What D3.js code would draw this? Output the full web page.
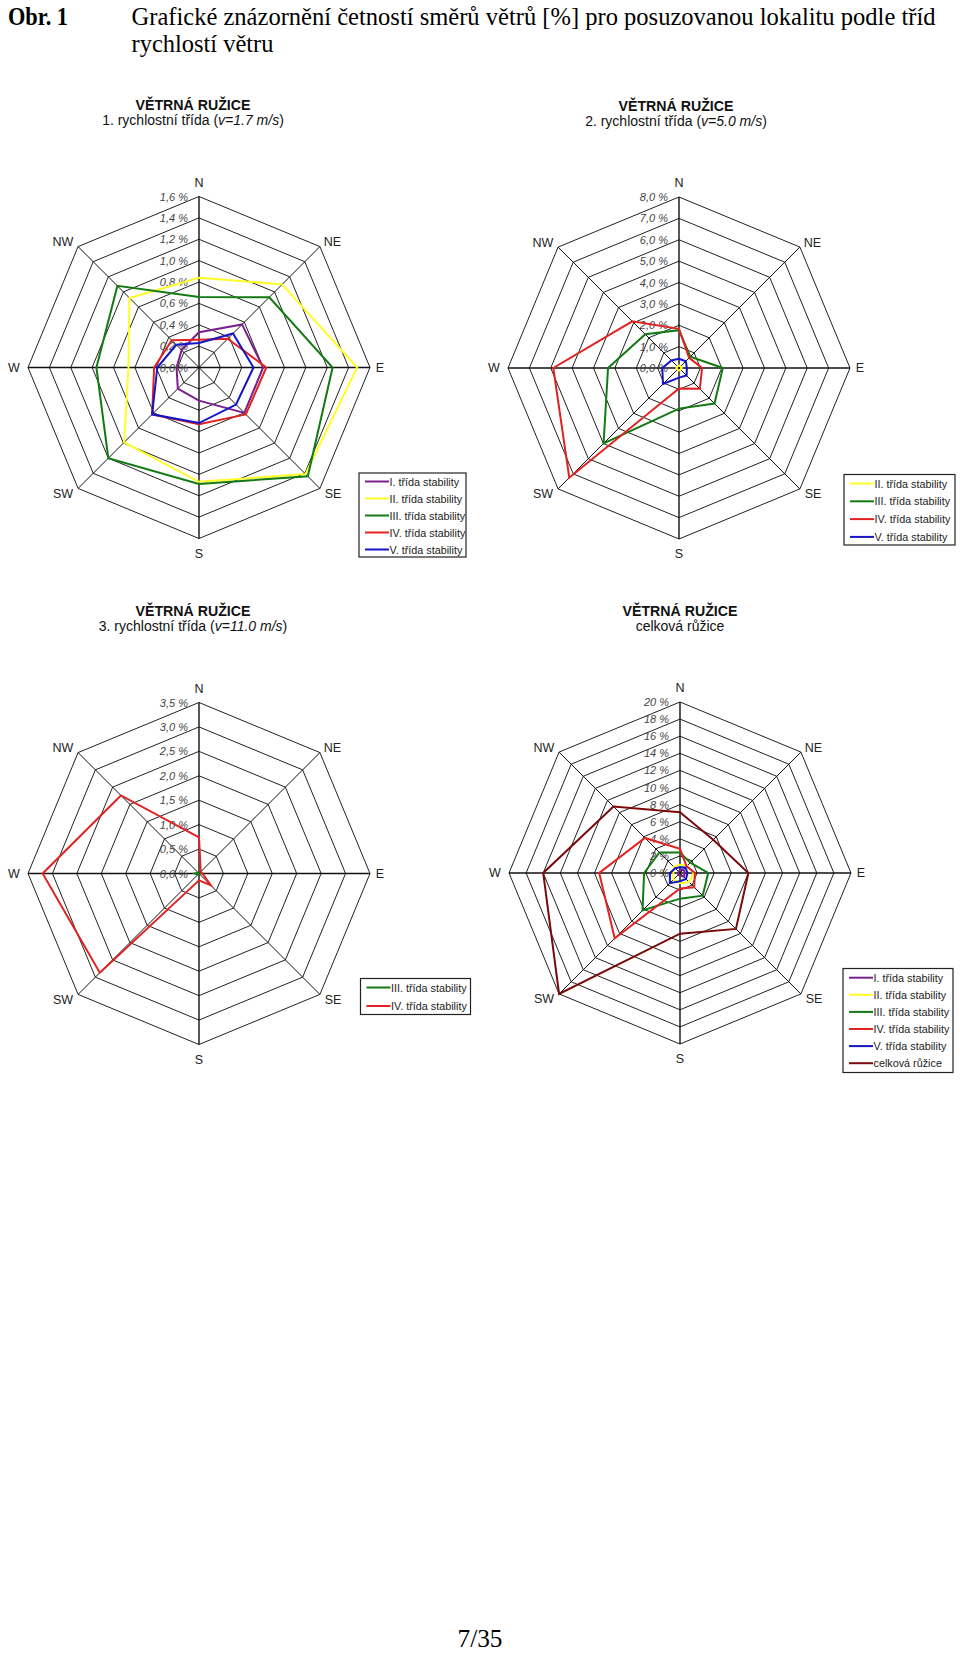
<!DOCTYPE html>
<html><head><meta charset="utf-8">
<script src="https://cdn.jsdelivr.net/npm/d3@7"></script>
<style>
html,body{margin:0;padding:0;background:#fff;}
svg{display:block;}
</style></head>
<body>
<script>
// ---------- DATA ----------
const directions = ["N","NE","E","SE","S","SW","W","NW"];

// Chart 1: 1. rychlostní třída (v=1.7 m/s)
const rose1Ticks = [0,0.2,0.4,0.6,0.8,1.0,1.2,1.4,1.6];
const rose1TickLabels = ["0,0 %","0,2 %","0,4 %","0,6 %","0,8 %","1,0 %","1,2 %","1,4 %","1,6 %"];
const rose1ClassI   = [0.33,0.57,0.60,0.60,0.31,0.28,0.21,0.23];
const rose1ClassII  = [0.84,1.10,1.48,1.41,1.07,0.99,0.66,0.92];
const rose1ClassIII = [0.66,0.93,1.25,1.44,1.09,1.20,0.96,1.08];
const rose1ClassIV  = [0.26,0.38,0.63,0.62,0.53,0.62,0.42,0.36];
const rose1ClassV   = [0.23,0.45,0.51,0.49,0.52,0.62,0.39,0.30];

// Chart 2: 2. rychlostní třída (v=5.0 m/s)
const rose2Ticks = [0,1,2,3,4,5,6,7,8];
const rose2TickLabels = ["0,0 %","1,0 %","2,0 %","3,0 %","4,0 %","5,0 %","6,0 %","7,0 %","8,0 %"];
const rose2ClassII  = [0.12,0.10,0.12,0.10,0.12,0.10,0.12,0.10];
const rose2ClassIII = [1.77,0.75,2.05,2.35,1.90,4.99,3.32,2.23];
const rose2ClassIV  = [1.83,0.67,1.08,1.38,0.96,7.26,5.88,3.09];
const rose2ClassV   = [0.43,0.45,0.37,0.50,0.45,1.06,0.78,0.50];

// Chart 3: 3. rychlostní třída (v=11.0 m/s)
const rose3Ticks = [0,0.5,1.0,1.5,2.0,2.5,3.0,3.5];
const rose3TickLabels = ["0,0 %","0,5 %","1,0 %","1,5 %","2,0 %","2,5 %","3,0 %","3,5 %"];
const rose3ClassIII = [0.02,0.01,0.02,0.01,0.02,0.03,0.08,0.02];
const rose3ClassIV  = [0.74,0.05,0.07,0.34,0.14,2.87,3.20,2.26];

// Chart 4: celková růžice
const rose4Ticks = [0,2,4,6,8,10,12,14,16,18,20];
const rose4TickLabels = ["0 %","2 %","4 %","6 %","8 %","10 %","12 %","14 %","16 %","18 %","20 %"];
const rose4ClassI   = [0.33,0.57,0.60,0.60,0.31,0.28,0.21,0.23];
const rose4ClassII  = [0.96,1.20,1.60,1.50,1.19,1.09,0.78,1.02];
const rose4ClassIII = [2.40,1.70,3.30,3.75,3.00,6.20,4.20,3.40];
const rose4ClassIV  = [2.83,1.10,1.75,2.35,1.80,10.80,9.45,5.80];
const rose4ClassV   = [0.66,0.90,0.88,0.99,0.97,1.68,1.17,0.80];
const rose4Total    = [7.10,5.50,8.00,9.25,7.10,20.00,16.00,11.00];

const seriesNames = ["I. třída stability","II. třída stability","III. třída stability","IV. třída stability","V. třída stability","celková růžice"];
const seriesColors = ["#7a1f8c","#ffff26","#137a13","#e02222","#1515c8","#7a0a0a"];

// ---------- LAYOUT ----------
const W = 960, H = 1653, R = 171;
const svg = d3.select("body").append("svg").attr("width",W).attr("height",H)
  .attr("viewBox",`0 0 ${W} ${H}`);
svg.append("rect").attr("width",W).attr("height",H).attr("fill","#fff");

const SANS = "'Liberation Sans', Arial, sans-serif";
const SERIF = "'Liberation Serif', 'Times New Roman', serif";

// Header
svg.append("text").attr("x",8).attr("y",25).attr("font-family",SERIF).attr("font-weight","bold")
  .attr("font-size",25).attr("textLength",60).attr("lengthAdjust","spacingAndGlyphs").attr("fill","#000").text("Obr. 1");
svg.append("text").attr("x",131.5).attr("y",25).attr("font-family",SERIF).attr("font-size",25)
  .attr("textLength",804).attr("lengthAdjust","spacingAndGlyphs").attr("fill","#000")
  .text("Grafické znázornění četností směrů větrů [%] pro posuzovanou lokalitu podle tříd");
svg.append("text").attr("x",131.5).attr("y",52).attr("font-family",SERIF).attr("font-size",25)
  .attr("textLength",142).attr("lengthAdjust","spacingAndGlyphs").attr("fill","#000")
  .text("rychlostí větru");
svg.append("text").attr("x",480).attr("y",1647).attr("text-anchor","middle").attr("font-family",SERIF)
  .attr("font-size",25).attr("textLength",45).attr("lengthAdjust","spacingAndGlyphs").attr("fill","#000").text("7/35");

const angle = d3.scaleLinear().domain([0, directions.length]).range([0, 2*Math.PI]);

function drawRose(cfg){
  const g = svg.append("g").attr("transform",`translate(${cfg.cx},${cfg.cy})`);
  const rScale = d3.scaleLinear().domain([0, d3.max(cfg.ticks)]).range([0, R]);
  const radial = d3.lineRadial()
    .angle((d,i)=>angle(i))
    .radius(d=>rScale(d))
    .curve(d3.curveLinearClosed);

  // rings
  g.selectAll("path.ring").data(cfg.ticks.slice(1)).join("path")
    .attr("class","ring")
    .attr("d", t => radial(directions.map(()=>t)))
    .attr("fill","none").attr("stroke","#222").attr("stroke-width",1);
  // spokes
  g.selectAll("line.spoke").data(directions).join("line")
    .attr("class","spoke")
    .attr("x1",0).attr("y1",0)
    .attr("x2",(d,i)=>rScale(d3.max(cfg.ticks))*Math.sin(angle(i)))
    .attr("y2",(d,i)=>-rScale(d3.max(cfg.ticks))*Math.cos(angle(i)))
    .attr("stroke","#111").attr("stroke-width",(d,i)=> i%2===0 ? 1.4 : 1);

  // direction labels
  const labOff = {N:[0,-185],NE:[133.5,-125.5],E:[181,0],SE:[134,126],S:[0,186],SW:[-136,126],W:[-185,0],NW:[-136,-125.5]};
  g.selectAll("text.dir").data(directions).join("text")
    .attr("class","dir")
    .attr("x",d=>labOff[d][0]).attr("y",d=>labOff[d][1])
    .attr("text-anchor","middle").attr("dominant-baseline","central")
    .attr("font-family",SANS).attr("font-size",12.5).attr("fill","#222").text(d=>d);

  // tick labels
  g.selectAll("text.tick").data(cfg.ticks).join("text")
    .attr("class","tick")
    .attr("x",-11).attr("y",t=>-rScale(t))
    .attr("text-anchor","end").attr("dominant-baseline","central")
    .attr("font-family",SANS).attr("font-style","italic").attr("font-size",11)
    .attr("fill","#444").text((t,i)=>cfg.tickLabels[i]);

  // series
  cfg.series.forEach(s=>{
    g.append("path").attr("d", radial(s.values))
      .attr("fill","none").attr("stroke",seriesColors[s.idx]).attr("stroke-width",2)
      .attr("stroke-linejoin","miter");
  });

  // titles
  const tg = svg.append("g");
  tg.append("text").attr("x",cfg.tx).attr("y",cfg.cy-257.5).attr("text-anchor","middle")
    .attr("font-family",SANS).attr("font-weight","bold").attr("font-size",14)
    .attr("textLength",115).attr("lengthAdjust","spacingAndGlyphs").attr("fill","#111").text("VĚTRNÁ RUŽICE");
  const st = tg.append("text").attr("x",cfg.tx).attr("y",cfg.cy-242.5).attr("text-anchor","middle")
    .attr("font-family",SANS).attr("font-size",14).attr("fill","#111");
  cfg.subtitle.forEach(p=>{
    st.append("tspan").attr("font-style",p.it?"italic":"normal").text(p.t);
  });

  // legend
  const L = cfg.legend;
  const lg = svg.append("g").attr("transform",`translate(${L.x},${L.y})`);
  lg.append("rect").attr("x",0).attr("y",0).attr("width",L.w).attr("height",L.h)
    .attr("fill","#fff").attr("stroke","#222").attr("stroke-width",1.2);
  const rows = lg.selectAll("g.row").data(L.items).join("g").attr("class","row")
    .attr("transform",(d,i)=>`translate(0,${L.first + i*L.step})`);
  rows.append("line").attr("x1",6).attr("x2",30).attr("y1",0).attr("y2",0)
    .attr("stroke",d=>seriesColors[d]).attr("stroke-width",2);
  rows.append("text").attr("x",30.5).attr("y",0).attr("dominant-baseline","central")
    .attr("font-family",SANS).attr("font-size",10.8).attr("fill","#222").text(d=>seriesNames[d]);
}

drawRose({
  cx:199, cy:367.5, tx:193, ticks:rose1Ticks, tickLabels:rose1TickLabels,
  subtitle:[{t:"1. rychlostní třída ("},{t:"v=1.7 m/s",it:true},{t:")"}],
  series:[{idx:0,values:rose1ClassI},{idx:1,values:rose1ClassII},{idx:2,values:rose1ClassIII},{idx:3,values:rose1ClassIV},{idx:4,values:rose1ClassV}],
  legend:{x:359,y:473,w:107,h:84,first:8.5,step:17,items:[0,1,2,3,4]}
});
drawRose({
  cx:679, cy:368, tx:676, ticks:rose2Ticks, tickLabels:rose2TickLabels,
  subtitle:[{t:"2. rychlostní třída ("},{t:"v=5.0 m/s",it:true},{t:")"}],
  series:[{idx:1,values:rose2ClassII},{idx:2,values:rose2ClassIII},{idx:3,values:rose2ClassIV},{idx:4,values:rose2ClassV}],
  legend:{x:844,y:474.5,w:111,h:70.5,first:9,step:17.8,items:[1,2,3,4]}
});
drawRose({
  cx:199, cy:873.5, tx:193, ticks:rose3Ticks, tickLabels:rose3TickLabels,
  subtitle:[{t:"3. rychlostní třída ("},{t:"v=11.0 m/s",it:true},{t:")"}],
  series:[{idx:2,values:rose3ClassIII},{idx:3,values:rose3ClassIV}],
  legend:{x:360.5,y:978.5,w:110,h:36,first:9,step:18.5,items:[2,3]}
});
drawRose({
  cx:680, cy:873, tx:680, ticks:rose4Ticks, tickLabels:rose4TickLabels,
  subtitle:[{t:"celková růžice"}],
  series:[{idx:0,values:rose4ClassI},{idx:1,values:rose4ClassII},{idx:2,values:rose4ClassIII},{idx:3,values:rose4ClassIV},{idx:4,values:rose4ClassV},{idx:5,values:rose4Total}],
  legend:{x:843,y:968.5,w:110,h:104,first:9.2,step:17.1,items:[0,1,2,3,4,5]}
});
</script>
</body></html>
